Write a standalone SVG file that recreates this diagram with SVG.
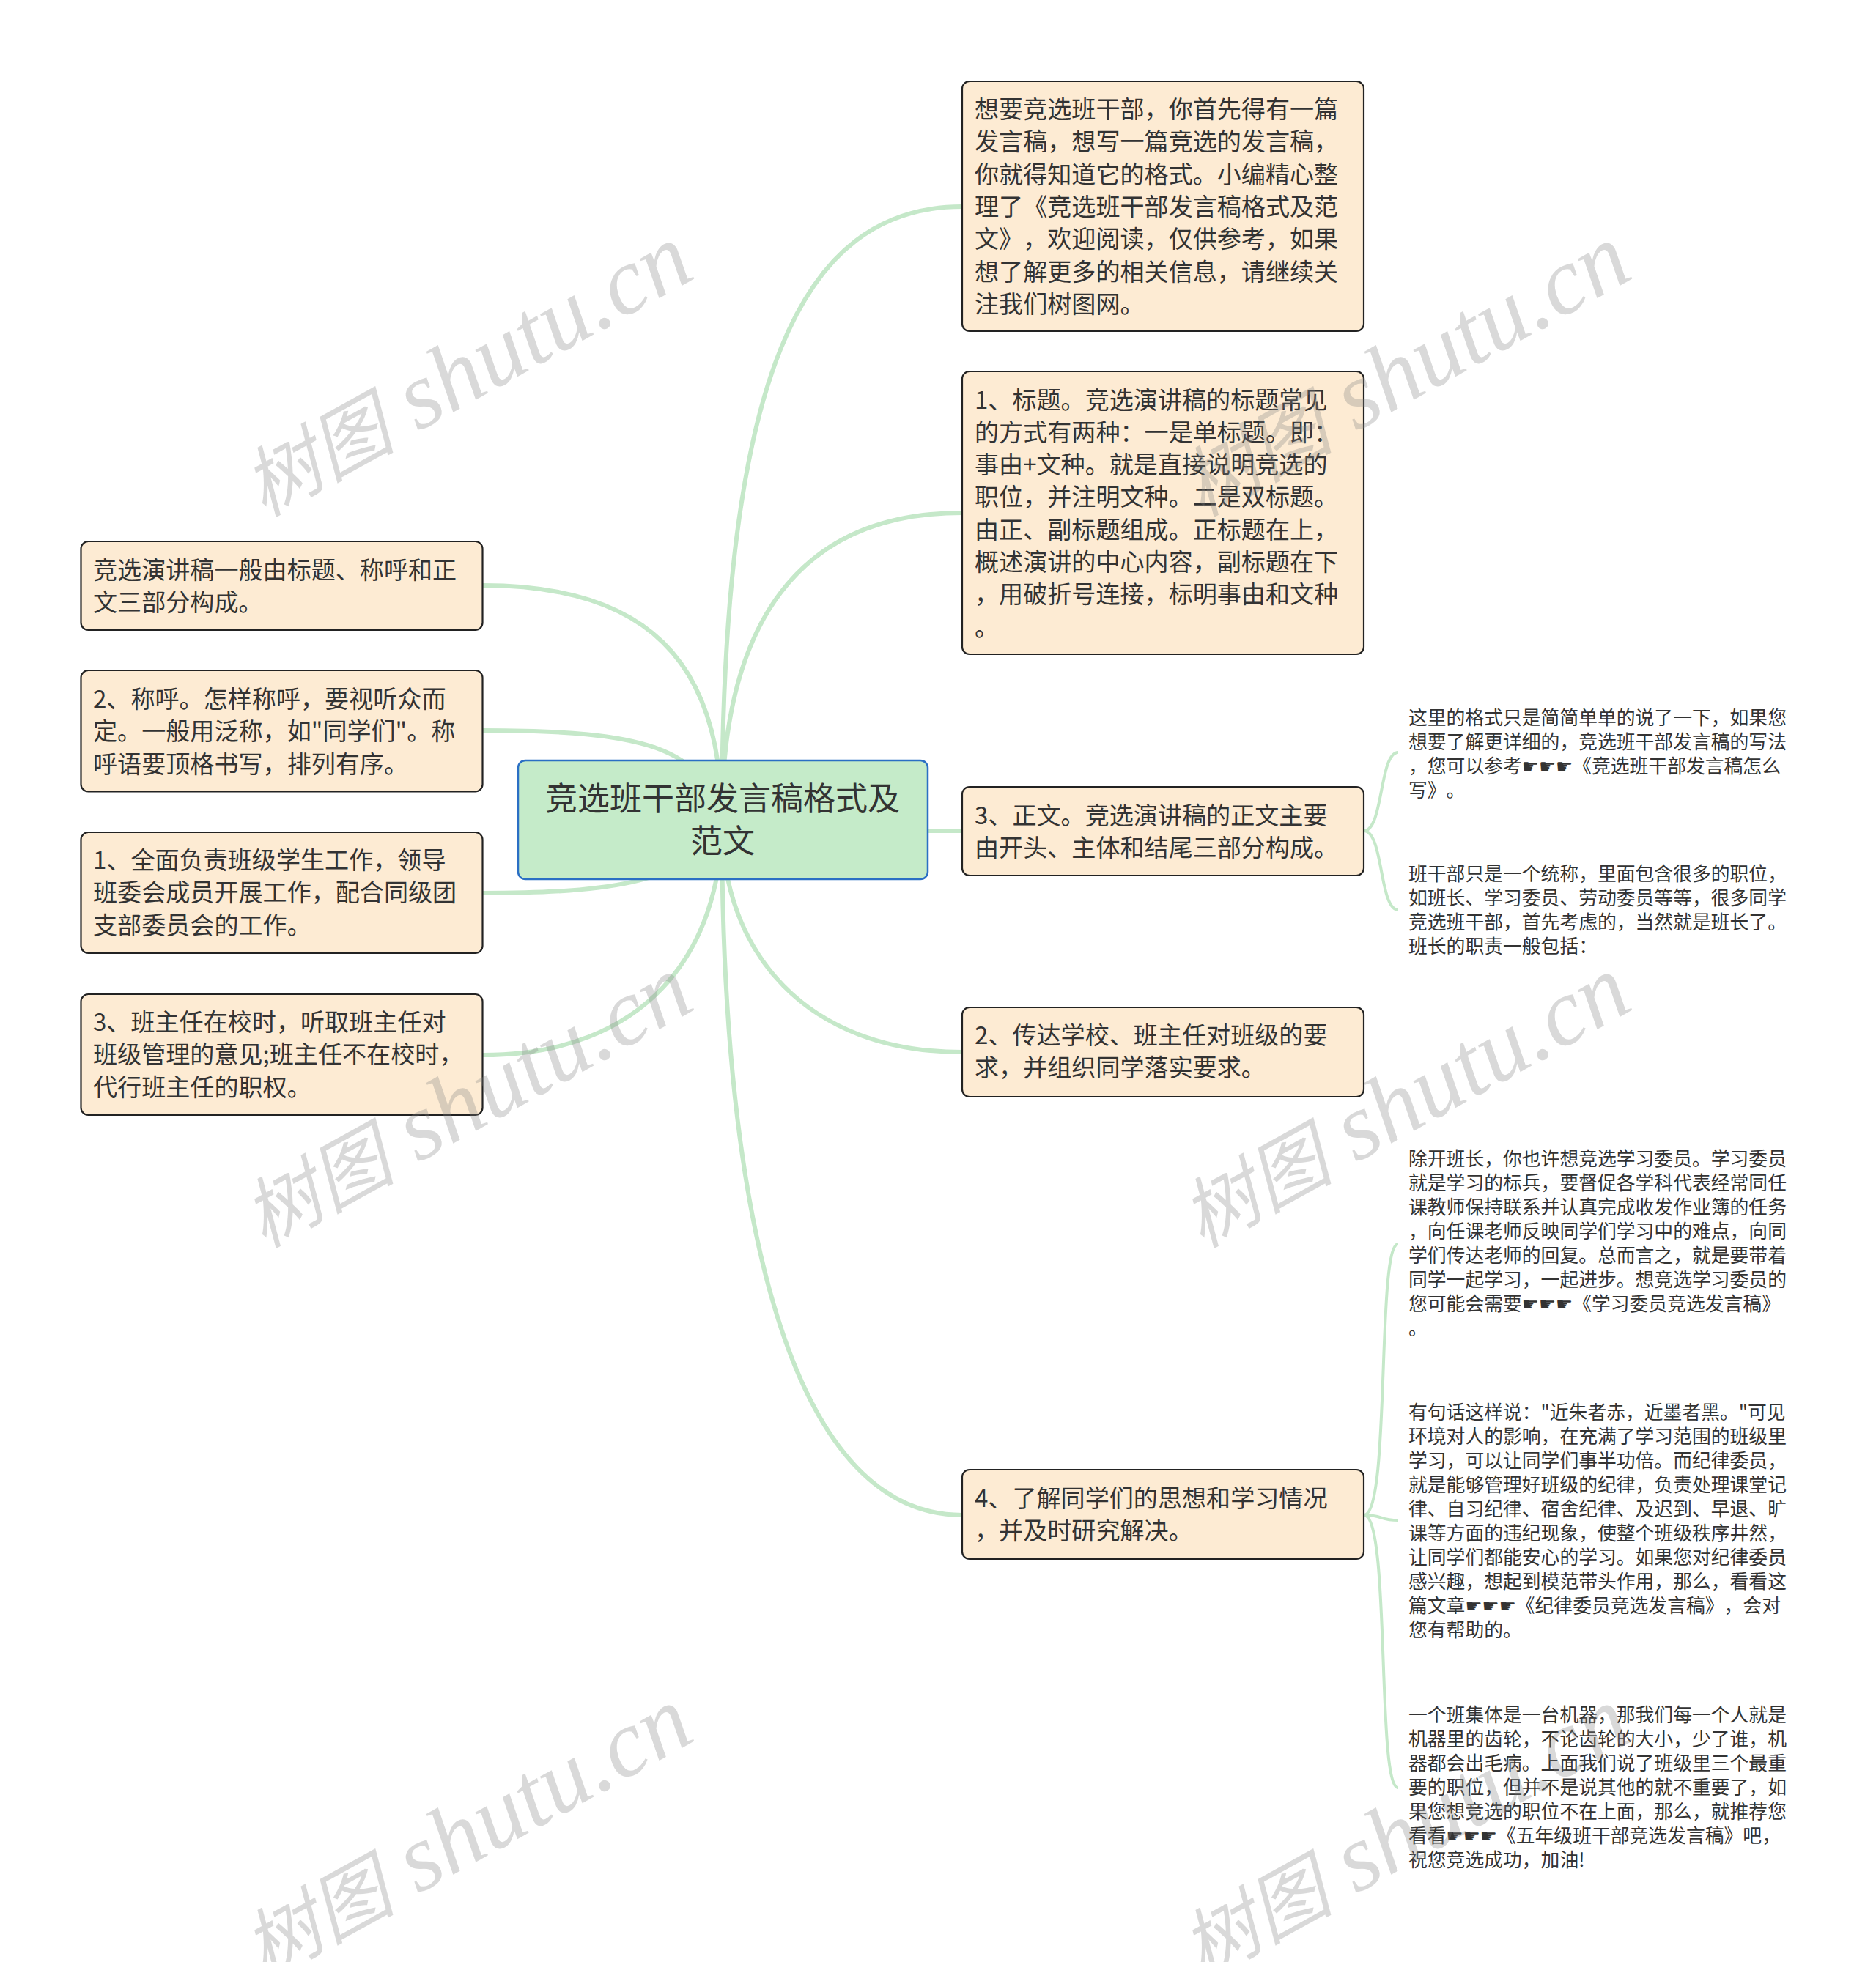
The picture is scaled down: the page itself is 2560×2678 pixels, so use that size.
<svg xmlns="http://www.w3.org/2000/svg" width="2560" height="2678" viewBox="0 0 2560 2678">
<style>
text{font-family:"Noto Sans CJK SC","DejaVu Sans",sans-serif;fill:#333;font-kerning:none;font-feature-settings:"kern" 0,"chws" 0;text-spacing-trim:space-all}
.box{fill:#fdebd3;stroke:#222;stroke-width:2.2}
.root{fill:#c5ebc9;stroke:#2b6fc4;stroke-width:2.5}
.t{font-size:33.1px}
.r{font-size:44px;text-anchor:middle}
.s{font-size:25.8px}
.c{fill:none;stroke:#c5e8c9;stroke-width:6}
.d{fill:none;stroke:#c5e8c9;stroke-width:4}
.w{font-family:"Liberation Serif","Noto Sans CJK SC",serif;font-size:130px;font-style:italic;fill:#808080;fill-opacity:.3;text-anchor:middle}
.w .k{font-size:104px}
</style>
<rect width="2560" height="2678" fill="#fff"/>
<g id="connectors">
<path class="c" d="M985 1120C985 520 1090 282 1313 282"/>
<path class="c" d="M985 1120C985 850 1090 700 1313 700"/>
<path class="c" d="M985 1134H1313"/>
<path class="c" d="M985 1120C985 1300 1100 1436 1313 1436"/>
<path class="c" d="M985 1120C985 1700 1090 2068 1313 2068"/>
<path class="c" d="M985 1120C985 900 880 799 659 799"/>
<path class="c" d="M985 1120C960 1020 880 997 659 997"/>
<path class="c" d="M985 1120C950 1205 830 1219 659 1219"/>
<path class="c" d="M985 1120C985 1300 880 1440 659 1440"/>
<path class="d" d="M1861 1134C1888 1134 1882 1027 1908 1027"/>
<path class="d" d="M1861 1134C1888 1134 1882 1242 1908 1242"/>
<path class="d" d="M1861 2068C1898 2068 1878 1698 1908 1698"/>
<path class="d" d="M1861 2068C1888 2068 1882 2075 1908 2075"/>
<path class="d" d="M1861 2068C1898 2068 1878 2440 1908 2440"/>
</g>
<g id="root"><rect class="root" x="707" y="1038" width="559" height="162" rx="10"/>
<text class="r" y="1106"><tspan x="986">竞选班干部发言稿格式及</tspan><tspan x="986" dy="58">范文</tspan></text></g>
<g id="n1"><rect class="box" x="1313" y="111" width="548" height="341" rx="10"/>
<text class="t" y="161"><tspan x="1330">想要竞选班干部，你首先得有一篇</tspan><tspan x="1330" dy="44.3">发言稿，想写一篇竞选的发言稿，</tspan><tspan x="1330" dy="44.3">你就得知道它的格式。小编精心整</tspan><tspan x="1330" dy="44.3">理了《竞选班干部发言稿格式及范</tspan><tspan x="1330" dy="44.3">文》，欢迎阅读，仅供参考，如果</tspan><tspan x="1330" dy="44.3">想了解更多的相关信息，请继续关</tspan><tspan x="1330" dy="44.3">注我们树图网。</tspan></text></g>
<g id="n2"><rect class="box" x="1313" y="507" width="548" height="386" rx="10"/>
<text class="t" y="557.5"><tspan x="1330">1、标题。竞选演讲稿的标题常见</tspan><tspan x="1330" dy="44.3">的方式有两种：一是单标题。即：</tspan><tspan x="1330" dy="44.3">事由+文种。就是直接说明竞选的</tspan><tspan x="1330" dy="44.3">职位，并注明文种。二是双标题。</tspan><tspan x="1330" dy="44.3">由正、副标题组成。正标题在上，</tspan><tspan x="1330" dy="44.3">概述演讲的中心内容，副标题在下</tspan><tspan x="1330" dy="44.3">，用破折号连接，标明事由和文种</tspan><tspan x="1330" dy="44.3">。</tspan></text></g>
<g id="n3"><rect class="box" x="1313" y="1074" width="548" height="121" rx="10"/>
<text class="t" y="1124.5"><tspan x="1330">3、正文。竞选演讲稿的正文主要</tspan><tspan x="1330" dy="44.3">由开头、主体和结尾三部分构成。</tspan></text></g>
<g id="n4"><rect class="box" x="1313" y="1375" width="548" height="122" rx="10"/>
<text class="t" y="1425"><tspan x="1330">2、传达学校、班主任对班级的要</tspan><tspan x="1330" dy="44.3">求，并组织同学落实要求。</tspan></text></g>
<g id="n5"><rect class="box" x="1313" y="2006" width="548" height="122" rx="10"/>
<text class="t" y="2057"><tspan x="1330">4、了解同学们的思想和学习情况</tspan><tspan x="1330" dy="44.3">，并及时研究解决。</tspan></text></g>
<g id="l1"><rect class="box" x="110.5" y="739" width="548" height="121" rx="10"/>
<text class="t" y="790"><tspan x="127">竞选演讲稿一般由标题、称呼和正</tspan><tspan x="127" dy="44.3">文三部分构成。</tspan></text></g>
<g id="l2"><rect class="box" x="110.5" y="915" width="548" height="165.5" rx="10"/>
<text class="t" y="966"><tspan x="127">2、称呼。怎样称呼，要视听众而</tspan><tspan x="127" dy="44.3">定。一般用泛称，如"同学们"。称</tspan><tspan x="127" dy="44.3">呼语要顶格书写，排列有序。</tspan></text></g>
<g id="l3"><rect class="box" x="110.5" y="1136" width="548" height="165" rx="10"/>
<text class="t" y="1186"><tspan x="127">1、全面负责班级学生工作，领导</tspan><tspan x="127" dy="44.3">班委会成员开展工作，配合同级团</tspan><tspan x="127" dy="44.3">支部委员会的工作。</tspan></text></g>
<g id="l4"><rect class="box" x="110.5" y="1357" width="548" height="165" rx="10"/>
<text class="t" y="1407"><tspan x="127">3、班主任在校时，听取班主任对</tspan><tspan x="127" dy="44.3">班级管理的意见;班主任不在校时，</tspan><tspan x="127" dy="44.3">代行班主任的职权。</tspan></text></g>
<g id="s1"><text class="s" y="988.5"><tspan x="1922">这里的格式只是简简单单的说了一下，如果您</tspan><tspan x="1922" dy="33">想要了解更详细的，竞选班干部发言稿的写法</tspan><tspan x="1922" dy="33">，您可以参考☛☛☛《竞选班干部发言稿怎么</tspan><tspan x="1922" dy="33">写》。</tspan></text></g>
<g id="s2"><text class="s" y="1201.5"><tspan x="1922">班干部只是一个统称，里面包含很多的职位，</tspan><tspan x="1922" dy="33">如班长、学习委员、劳动委员等等，很多同学</tspan><tspan x="1922" dy="33">竞选班干部，首先考虑的，当然就是班长了。</tspan><tspan x="1922" dy="33">班长的职责一般包括：</tspan></text></g>
<g id="s3"><text class="s" y="1590.5"><tspan x="1922">除开班长，你也许想竞选学习委员。学习委员</tspan><tspan x="1922" dy="33">就是学习的标兵，要督促各学科代表经常同任</tspan><tspan x="1922" dy="33">课教师保持联系并认真完成收发作业簿的任务</tspan><tspan x="1922" dy="33">，向任课老师反映同学们学习中的难点，向同</tspan><tspan x="1922" dy="33">学们传达老师的回复。总而言之，就是要带着</tspan><tspan x="1922" dy="33">同学一起学习，一起进步。想竞选学习委员的</tspan><tspan x="1922" dy="33">您可能会需要☛☛☛《学习委员竞选发言稿》</tspan><tspan x="1922" dy="33">。</tspan></text></g>
<g id="s4"><text class="s" y="1937"><tspan x="1922">有句话这样说："近朱者赤，近墨者黑。"可见</tspan><tspan x="1922" dy="33">环境对人的影响，在充满了学习范围的班级里</tspan><tspan x="1922" dy="33">学习，可以让同学们事半功倍。而纪律委员，</tspan><tspan x="1922" dy="33">就是能够管理好班级的纪律，负责处理课堂记</tspan><tspan x="1922" dy="33">律、自习纪律、宿舍纪律、及迟到、早退、旷</tspan><tspan x="1922" dy="33">课等方面的违纪现象，使整个班级秩序井然，</tspan><tspan x="1922" dy="33">让同学们都能安心的学习。如果您对纪律委员</tspan><tspan x="1922" dy="33">感兴趣，想起到模范带头作用，那么，看看这</tspan><tspan x="1922" dy="33">篇文章☛☛☛《纪律委员竞选发言稿》，会对</tspan><tspan x="1922" dy="33">您有帮助的。</tspan></text></g>
<g id="s5"><text class="s" y="2350"><tspan x="1922">一个班集体是一台机器，那我们每一个人就是</tspan><tspan x="1922" dy="33">机器里的齿轮，不论齿轮的大小，少了谁，机</tspan><tspan x="1922" dy="33">器都会出毛病。上面我们说了班级里三个最重</tspan><tspan x="1922" dy="33">要的职位，但并不是说其他的就不重要了，如</tspan><tspan x="1922" dy="33">果您想竞选的职位不在上面，那么，就推荐您</tspan><tspan x="1922" dy="33">看看☛☛☛《五年级班干部竞选发言稿》吧，</tspan><tspan x="1922" dy="33">祝您竞选成功，加油!</tspan></text></g>
<g id="watermarks">
<text class="w" transform="translate(656 542) rotate(-29)"><tspan class="k">树图</tspan> shutu.cn</text>
<text class="w" transform="translate(1936 542) rotate(-29)"><tspan class="k">树图</tspan> shutu.cn</text>
<text class="w" transform="translate(656 1540) rotate(-29)"><tspan class="k">树图</tspan> shutu.cn</text>
<text class="w" transform="translate(1936 1540) rotate(-29)"><tspan class="k">树图</tspan> shutu.cn</text>
<text class="w" transform="translate(656 2538) rotate(-29)"><tspan class="k">树图</tspan> shutu.cn</text>
<text class="w" transform="translate(1936 2538) rotate(-29)"><tspan class="k">树图</tspan> shutu.cn</text>
</g>
</svg>
